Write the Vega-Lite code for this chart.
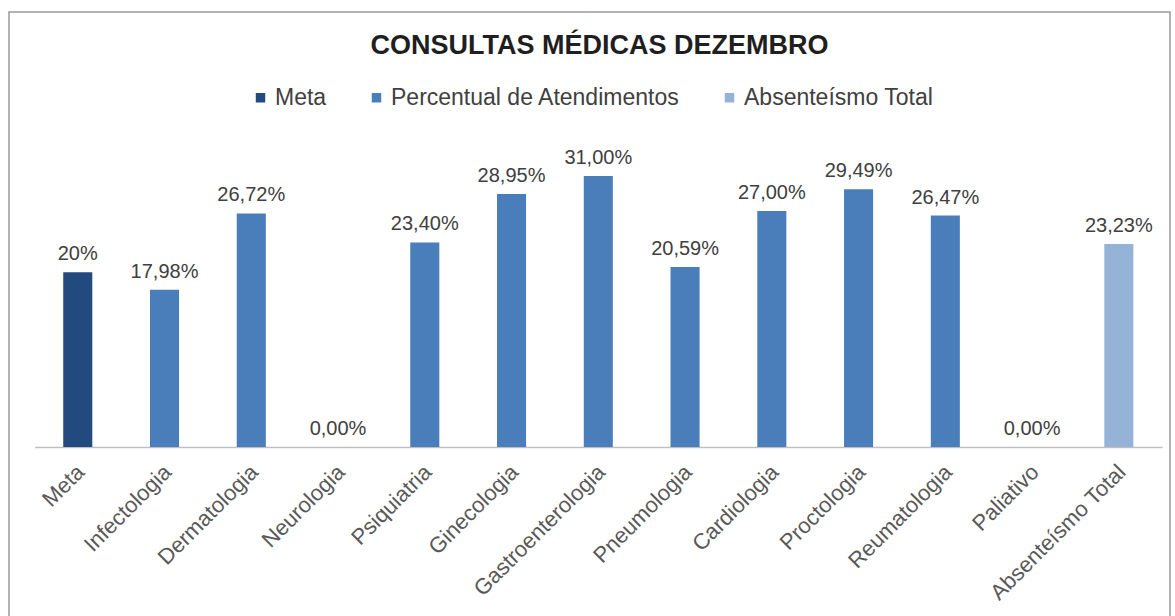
{
  "$schema": "https://vega.github.io/schema/vega-lite/v6.json",
  "autosize": "none",
  "width": 1161,
  "height": 610,
  "padding": {"left": 9, "top": 12, "right": 5, "bottom": 0},
  "background": "white",
  "title": {
    "text": "CONSULTAS MÉDICAS DEZEMBRO",
    "anchor": "middle",
    "frame": "group",
    "fontSize": 27,
    "fontWeight": "bold",
    "font": "Liberation Sans",
    "color": "#1f1f1f",
    "baseline": "alphabetic",
    "offset": 0,
    "dy": 69,
    "dx": 10
  },
  "data": {
    "values": [
      {"categoria": "Meta", "valor": 20, "rotulo": "20%", "serie": "Meta"},
      {"categoria": "Infectologia", "valor": 17.98, "rotulo": "17,98%", "serie": "Percentual de Atendimentos"},
      {"categoria": "Dermatologia", "valor": 26.72, "rotulo": "26,72%", "serie": "Percentual de Atendimentos"},
      {"categoria": "Neurologia", "valor": 0, "rotulo": "0,00%", "serie": "Percentual de Atendimentos"},
      {"categoria": "Psiquiatria", "valor": 23.40, "rotulo": "23,40%", "serie": "Percentual de Atendimentos"},
      {"categoria": "Ginecologia", "valor": 28.95, "rotulo": "28,95%", "serie": "Percentual de Atendimentos"},
      {"categoria": "Gastroenterologia", "valor": 31.00, "rotulo": "31,00%", "serie": "Percentual de Atendimentos"},
      {"categoria": "Pneumologia", "valor": 20.59, "rotulo": "20,59%", "serie": "Percentual de Atendimentos"},
      {"categoria": "Cardiologia", "valor": 27.00, "rotulo": "27,00%", "serie": "Percentual de Atendimentos"},
      {"categoria": "Proctologia", "valor": 29.49, "rotulo": "29,49%", "serie": "Percentual de Atendimentos"},
      {"categoria": "Reumatologia", "valor": 26.47, "rotulo": "26,47%", "serie": "Percentual de Atendimentos"},
      {"categoria": "Paliativo", "valor": 0, "rotulo": "0,00%", "serie": "Percentual de Atendimentos"},
      {"categoria": "Absenteísmo Total", "valor": 23.23, "rotulo": "23,23%", "serie": "Absenteísmo Total"}
    ]
  },
  "encoding": {
    "x": {
      "field": "categoria",
      "type": "nominal",
      "sort": null,
      "scale": {"range": [25.6, 1153], "paddingInner": 0.665, "paddingOuter": 0.33},
      "axis": {
        "title": null,
        "orient": "bottom",
        "offset": -175,
        "labelAngle": -45,
        "labelFontSize": 22,
        "labelFont": "Liberation Sans",
        "labelColor": "#595959",
        "labelPadding": 14,
        "labelOffset": -4,
        "labelLimit": 400,
        "labelOverlap": false,
        "ticks": false,
        "domainColor": "#bfbfbf",
        "domainWidth": 1.5,
        "grid": false
      }
    },
    "y": {
      "field": "valor",
      "type": "quantitative",
      "scale": {"domain": [0, 31], "range": [435, 164]},
      "axis": null
    }
  },
  "layer": [
    {
      "mark": {"type": "bar"},
      "encoding": {
        "color": {
          "field": "serie",
          "type": "nominal",
          "scale": {
            "domain": ["Meta", "Percentual de Atendimentos", "Absenteísmo Total"],
            "range": ["#234a7e", "#4a7ebb", "#95b3d7"]
          },
          "legend": {
            "title": null,
            "orient": "none",
            "direction": "horizontal",
            "legendX": 240,
            "legendY": 74,
            "symbolType": "square",
            "symbolSize": 90,
            "symbolStrokeWidth": 0,
            "labelFontSize": 23,
            "labelFont": "Liberation Sans",
            "labelColor": "#404040",
            "labelOffset": 3,
            "labelLimit": 500,
            "columnPadding": 38
          }
        }
      }
    },
    {
      "mark": {
        "type": "text",
        "baseline": "alphabetic",
        "dy": -12,
        "fontSize": 20,
        "font": "Liberation Sans",
        "color": "#404040"
      },
      "encoding": {
        "text": {"field": "rotulo", "type": "nominal"}
      }
    }
  ],
  "config": {
    "view": {"stroke": "#9a9a9a", "strokeWidth": 1.5}
  }
}
